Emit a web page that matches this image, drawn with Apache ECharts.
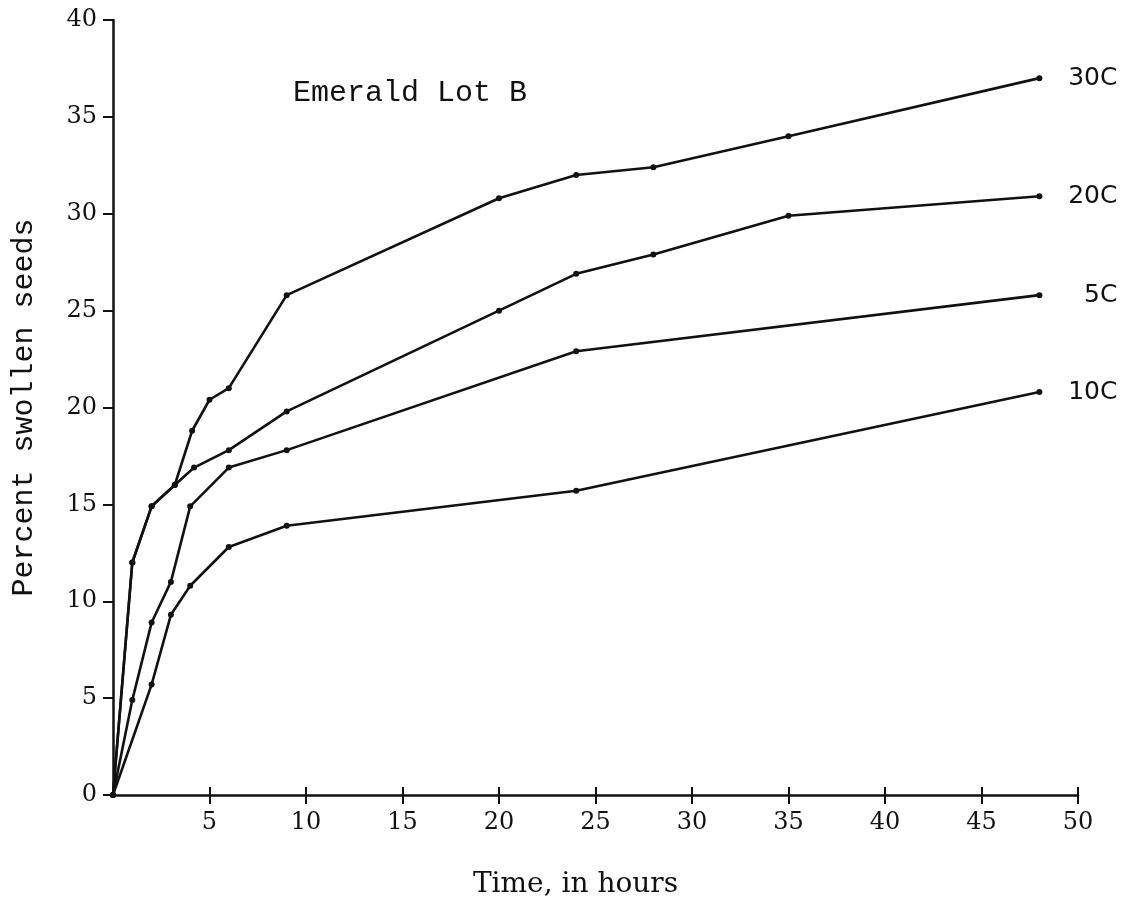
<!DOCTYPE html>
<html>
<head>
<meta charset="utf-8">
<title>Emerald Lot B</title>
<script src="https://cdn.jsdelivr.net/npm/echarts@6/dist/echarts.min.js"></script>
<style>
  html, body { margin: 0; padding: 0; background: #fff; }
  #chart { width: 1123px; height: 898px; }
</style>
</head>
<body>
<div id="chart"></div>
<script>
// values (hours, percent swollen seeds)
const hours30 = [0, 1, 2, 3.2, 4.1, 5, 6, 9, 20, 24, 28, 35, 48]
const pct30 = [0, 12, 14.9, 16, 18.8, 20.4, 21, 25.8, 30.8, 32, 32.4, 34, 37]
const hours20 = [0, 1, 2, 3.2, 4.2, 6, 9, 20, 24, 28, 35, 48]
const pct20 = [0, 12, 14.9, 16, 16.9, 17.8, 19.8, 25, 26.9, 27.9, 29.9, 30.9]
const hours5 = [0, 1, 2, 3, 4, 6, 9, 24, 48]
const pct5 = [0, 4.9, 8.9, 11, 14.9, 16.9, 17.8, 22.9, 25.8]
const hours10 = [0, 2, 3, 4, 6, 9, 24, 48]
const pct10 = [0, 5.7, 9.3, 10.8, 12.8, 13.9, 15.7, 20.8]

const seriesNames = ['30C', '20C', '5C', '10C']
const seriesHours = [hours30, hours20, hours5, hours10]
const seriesPct = [pct30, pct20, pct5, pct10]

const ink = '#111'
const serif = '"DejaVu Serif", "Liberation Serif", serif'
const mono = '"Liberation Mono", "DejaVu Sans Mono", monospace'

function pairs(xs, ys) {
  return xs.map((x, i) => [x, ys[i]])
}

const chart = echarts.init(document.getElementById('chart'), null, { renderer: 'canvas' })

const xCommon = {
  type: 'value',
  min: 0,
  max: 50,
  interval: 5,
  splitLine: { show: false },
}

chart.setOption({
  backgroundColor: '#fff',
  animation: false,
  title: {
    text: 'Emerald Lot B',
    left: 288,
    top: 73,
    textStyle: { fontFamily: mono, fontSize: 30, fontWeight: 'normal', color: ink },
  },
  grid: { left: 113, right: 45, top: 20, bottom: 103, outerBoundsMode: 'none' },
  xAxis: [
    {
      ...xCommon,
      name: 'Time, in hours',
      nameLocation: 'middle',
      nameGap: 76,
      nameTextStyle: { fontFamily: serif, fontSize: 28, color: ink, padding: [0, 40, 0, 0] },
      axisLine: { lineStyle: { color: ink, width: 2.5 } },
      axisTick: { show: true, length: 9, lineStyle: { color: ink, width: 2 } },
      axisLabel: { showMinLabel: false, fontFamily: serif, fontSize: 24, color: ink, margin: 16 },
    },
    {
      // second copy only for the tick halves above the axis line
      ...xCommon,
      position: 'bottom',
      axisLine: { show: false },
      axisTick: { show: true, inside: true, length: 8, lineStyle: { color: ink, width: 2 } },
      axisLabel: { show: false },
    },
  ],
  yAxis: {
    type: 'value',
    min: 0,
    max: 40,
    interval: 5,
    name: 'Percent swollen seeds',
    nameLocation: 'middle',
    nameGap: 74,
    nameTextStyle: { fontFamily: mono, fontSize: 30, color: ink },
    splitLine: { show: false },
    axisLine: { show: true, lineStyle: { color: ink, width: 2.5 } },
    axisTick: { show: true, length: 10, lineStyle: { color: ink, width: 2 } },
    axisLabel: { fontFamily: serif, fontSize: 24, color: ink, margin: 16 },
  },
  series: seriesNames.map((name, i) => ({
    name,
    type: 'line',
    xAxisIndex: 0,
    data: pairs(seriesHours[i], seriesPct[i]),
    symbol: 'circle',
    symbolSize: 6,
    lineStyle: { color: ink, width: 2.6 },
    itemStyle: { color: ink },
    endLabel: {
      show: true,
      formatter: '{a}',
      distance: 0,
      align: 'right',
      offset: [78, 0],
      fontFamily: '"DejaVu Sans", sans-serif',
      fontSize: 25,
      color: ink,
    },
    z: 3,
  })),
})
</script>
</body>
</html>
